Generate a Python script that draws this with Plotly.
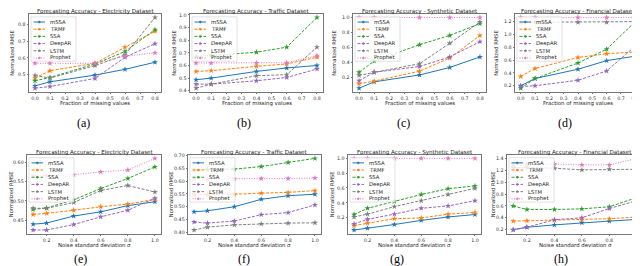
import plotly.graph_objects as go

# ---------------- data ----------------
methods = ["mSSA", "TRMF", "SSA", "DeepAR", "LSTM", "Prophet"]
x_missing = [0.0, 0.1, 0.4, 0.6, 0.8]
x_noise = [0.1, 0.2, 0.4, 0.6, 0.8, 1.0]

# (a) Electricity - missing values
elec_miss_mssa = [0.434, 0.458, 0.498, 0.532, 0.574]
elec_miss_trmf = [0.480, 0.524, 0.568, 0.664, 0.758]
elec_miss_ssa = [0.464, 0.484, 0.564, 0.638, 0.768]
elec_miss_deepar = [0.420, 0.430, 0.478, 0.604, 0.684]
elec_miss_lstm = [0.496, 0.480, 0.554, 0.618, 0.840]
elec_miss_prophet = [0.568, 0.568, 0.568, 0.610, 0.630]

# (b) Traffic - missing values
traf_miss_mssa = [0.487, 0.500, 0.553, 0.580, 0.600]
traf_miss_trmf = [0.553, 0.559, 0.593, 0.612, 0.665]
traf_miss_ssa = [0.670, 0.680, 0.705, 0.745, 0.980]
traf_miss_deepar = [0.452, 0.452, 0.479, 0.505, 0.572]
traf_miss_lstm = [0.420, 0.452, 0.519, 0.527, 0.745]
traf_miss_prophet = [0.620, 0.620, 0.620, 0.622, 0.678]

# (c) Synthetic - missing values
syn_miss_mssa = [0.055, 0.140, 0.232, 0.332, 0.473]
syn_miss_trmf = [0.114, 0.150, 0.282, 0.459, 0.760]
syn_miss_ssa = [0.268, 0.418, 0.636, 0.760, 0.918]
syn_miss_deepar = [0.155, 0.268, 0.345, 0.473, 0.677]
syn_miss_lstm = [0.227, 0.268, 0.382, 0.655, 0.940]
syn_miss_prophet = [1.000, 1.000, 1.000, 1.000, 1.000]

# (d) Financial - missing values
fin_miss_mssa = [0.200, 0.313, 0.458, 0.592, 0.662]
fin_miss_trmf = [0.345, 0.469, 0.641, 0.700, 0.727]
fin_miss_ssa = [0.162, 0.313, 0.555, 0.770, 1.200]
fin_miss_deepar = [0.189, 0.200, 0.286, 0.431, 0.818]
fin_miss_lstm = [1.190, 1.190, 1.190, 1.190, 1.200]
fin_miss_prophet = [1.265, 1.265, 1.265, 1.265, 1.265]

# (e) Electricity - noise
elec_noise_mssa = [0.440, 0.443, 0.461, 0.472, 0.488, 0.498]
elec_noise_trmf = [0.465, 0.468, 0.476, 0.485, 0.492, 0.504]
elec_noise_ssa = [0.478, 0.482, 0.503, 0.532, 0.558, 0.588]
elec_noise_deepar = [0.425, 0.425, 0.439, 0.459, 0.476, 0.507]
elec_noise_lstm = [0.481, 0.481, 0.496, 0.527, 0.540, 0.523]
elec_noise_prophet = [0.565, 0.565, 0.568, 0.575, 0.580, 0.610]

# (f) Traffic - noise
traf_noise_mssa = [0.480, 0.484, 0.500, 0.529, 0.543, 0.549]
traf_noise_trmf = [0.548, 0.548, 0.549, 0.553, 0.556, 0.563]
traf_noise_ssa = [0.645, 0.645, 0.647, 0.657, 0.673, 0.689]
traf_noise_deepar = [0.440, 0.436, 0.444, 0.469, 0.477, 0.507]
traf_noise_lstm = [0.409, 0.420, 0.429, 0.433, 0.436, 0.437]
traf_noise_prophet = [0.609, 0.609, 0.609, 0.610, 0.610, 0.612]

# (g) Synthetic - noise
syn_noise_mssa = [0.033, 0.056, 0.107, 0.163, 0.209, 0.242]
syn_noise_trmf = [0.093, 0.126, 0.186, 0.195, 0.247, 0.270]
syn_noise_ssa = [0.242, 0.326, 0.419, 0.512, 0.591, 0.628]
syn_noise_deepar = [0.116, 0.177, 0.247, 0.326, 0.358, 0.428]
syn_noise_lstm = [0.209, 0.247, 0.349, 0.428, 0.512, 0.595]
syn_noise_prophet = [1.000, 1.000, 1.000, 1.000, 1.000, 1.000]

# (h) Financial - noise
fin_noise_mssa = [0.200, 0.240, 0.280, 0.315, 0.344, 0.372]
fin_noise_trmf = [0.344, 0.350, 0.361, 0.367, 0.384, 0.413]
fin_noise_ssa = [0.597, 0.539, 0.539, 0.550, 0.585, 0.740]
fin_noise_deepar = [0.194, 0.240, 0.367, 0.400, 0.556, 0.689]
fin_noise_lstm = [1.246, 1.246, 1.234, 1.206, 1.217, 1.217]
fin_noise_prophet = [1.303, 1.303, 1.303, 1.290, 1.290, 1.400]

titles = ["Forecasting Accuracy - Electricity Dataset",
          "Forecasting Accuracy - Traffic Dataset",
          "Forecasting Accuracy - Synthetic Dataset",
          "Forecasting Accuracy - Financial Dataset"]
captions = ["(a)", "(b)", "(c)", "(d)", "(e)", "(f)", "(g)", "(h)"]
x_titles = ["Fraction of missing values", "Noise standard deviation \u03c3"]
y_title = "Normalized RMSE"
x_ticks_missing = [0.0, 0.1, 0.2, 0.3, 0.4, 0.5, 0.6, 0.7, 0.8]
x_ticks_noise = [0.2, 0.4, 0.6, 0.8, 1.0]
y_ticks = [
    [0.5, 0.6, 0.7, 0.8],
    [0.4, 0.5, 0.6, 0.7, 0.8, 0.9, 1.0],
    [0.2, 0.4, 0.6, 0.8, 1.0],
    [0.2, 0.4, 0.6, 0.8, 1.0, 1.2],
    [0.45, 0.50, 0.55, 0.60],
    [0.40, 0.45, 0.50, 0.55, 0.60, 0.65, 0.70],
    [0.2, 0.4, 0.6, 0.8, 1.0],
    [0.2, 0.4, 0.6, 0.8, 1.0, 1.2, 1.4],
]
y_fmt = [".1f", ".1f", ".1f", ".1f", ".2f", ".2f", ".1f", ".1f"]

panels = [
    (x_missing, [elec_miss_mssa, elec_miss_trmf, elec_miss_ssa, elec_miss_deepar, elec_miss_lstm, elec_miss_prophet]),
    (x_missing, [traf_miss_mssa, traf_miss_trmf, traf_miss_ssa, traf_miss_deepar, traf_miss_lstm, traf_miss_prophet]),
    (x_missing, [syn_miss_mssa, syn_miss_trmf, syn_miss_ssa, syn_miss_deepar, syn_miss_lstm, syn_miss_prophet]),
    (x_missing, [fin_miss_mssa, fin_miss_trmf, fin_miss_ssa, fin_miss_deepar, fin_miss_lstm, fin_miss_prophet]),
    (x_noise, [elec_noise_mssa, elec_noise_trmf, elec_noise_ssa, elec_noise_deepar, elec_noise_lstm, elec_noise_prophet]),
    (x_noise, [traf_noise_mssa, traf_noise_trmf, traf_noise_ssa, traf_noise_deepar, traf_noise_lstm, traf_noise_prophet]),
    (x_noise, [syn_noise_mssa, syn_noise_trmf, syn_noise_ssa, syn_noise_deepar, syn_noise_lstm, syn_noise_prophet]),
    (x_noise, [fin_noise_mssa, fin_noise_trmf, fin_noise_ssa, fin_noise_deepar, fin_noise_lstm, fin_noise_prophet]),
]

# ---------------- styles ----------------
W, H = 640, 266
colors = ["#1f77b4", "#ff7f0e", "#2ca02c", "#9467bd", "#7f7f7f", "#e377c2"]
dashes = ["solid", "3px,1.5px", "3px,1.5px", "3px,1.5px", "3px,1.5px", "1px,1.5px"]
FONT = "DejaVu Sans"

# panel boxes in pixels: left, right, top, bottom
boxes = [
    (21, 153, 4, 83), (182, 315, 4, 83), (345, 478, 4, 83), (507, 633, 4, 83),
    (19, 153, 147, 227), (180, 313, 147, 227), (340, 473, 147, 227), (499, 635, 147, 227),
]
ytitle_x = [4, 166, 326, 488, 3, 163, 324, 485]
caption_pos = [(75, 115), (236, 115), (395, 115), (557, 115),
               (72, 253), (236, 253), (389, 253), (553, 253)]


def fx(x):
    return x / W


def fy(y):
    return 1 - y / H


fig = go.Figure()
shapes = []
annotations = []
layout_axes = {}

for i, (xs, series) in enumerate(panels):
    n = i + 1
    xa = "x" if n == 1 else f"x{n}"
    ya = "y" if n == 1 else f"y{n}"
    for k, ys in enumerate(series):
        fig.add_trace(go.Scatter(
            x=xs, y=ys, xaxis=xa, yaxis=ya, mode="lines+markers",
            name=methods[k], showlegend=False,
            line=dict(color=colors[k], width=1, dash=dashes[k]),
            marker=dict(symbol="star", size=4.5, color=colors[k], line=dict(width=0)),
            hoverinfo="skip",
        ))
    L, R, T, B = boxes[i]
    allv = [v for s in series for v in s]
    lo, hi = min(allv), max(allv)
    pad = 0.05 * (hi - lo)
    xlo, xhi = min(xs), max(xs)
    xpad = 0.05 * (xhi - xlo)
    row = 0 if i < 4 else 1
    axis_common = dict(showline=True, mirror=True, linecolor="#777", linewidth=0.7,
                       showgrid=False, zeroline=False, ticks="outside", ticklen=1.5,
                       tickwidth=0.6, tickcolor="#777",
                       tickfont=dict(family=FONT, size=4.8, color="#333"))
    layout_axes["xaxis" if n == 1 else f"xaxis{n}"] = dict(
        domain=[fx(L), fx(R)], anchor=ya, range=[xlo - xpad, xhi + xpad],
        tickvals=x_ticks_missing if row == 0 else x_ticks_noise, tickformat=".1f",
        **axis_common)
    layout_axes["yaxis" if n == 1 else f"yaxis{n}"] = dict(
        domain=[fy(B), fy(T)], anchor=xa, range=[lo - pad, hi + pad],
        tickvals=y_ticks[i], tickformat=y_fmt[i], **axis_common)

    cx = (L + R) / 2
    # panel title
    annotations.append(dict(text=titles[i % 4], x=fx(cx), y=fy(T - 2.5), xref="paper", yref="paper",
                            showarrow=False, xanchor="center", yanchor="middle",
                            font=dict(family=FONT, size=5.6, color="#222")))
    # x title
    annotations.append(dict(text=x_titles[row], x=fx(cx), y=fy(B + 11.5), xref="paper", yref="paper",
                            showarrow=False, xanchor="center", yanchor="middle",
                            font=dict(family=FONT, size=5.4, color="#222")))
    # y title
    annotations.append(dict(text=y_title, x=fx(ytitle_x[i]), y=fy((T + B) / 2), xref="paper", yref="paper",
                            showarrow=False, xanchor="center", yanchor="middle", textangle=-90,
                            font=dict(family=FONT, size=5.2, color="#222")))
    # caption
    cxp, cyp = caption_pos[i]
    annotations.append(dict(text=captions[i], x=fx(cxp), y=fy(cyp), xref="paper", yref="paper",
                            showarrow=False, xanchor="center", yanchor="middle",
                            font=dict(family="Liberation Serif", size=12, color="#000")))
    # legend (drawn manually, matplotlib style)
    bl, bt = L + 2, T + 3
    br, bb = L + 47, T + 48
    shapes.append(dict(type="rect", xref="paper", yref="paper", layer="above",
                       x0=fx(bl), x1=fx(br), y0=fy(bb), y1=fy(bt),
                       line=dict(color="#cccccc", width=0.6), fillcolor="rgba(255,255,255,0.8)"))
    for k in range(6):
        ey = bt + 5.2 + 7.3 * k
        shapes.append(dict(type="line", xref="paper", yref="paper", layer="above",
                           x0=fx(bl + 2.5), x1=fx(bl + 14), y0=fy(ey), y1=fy(ey),
                           line=dict(color=colors[k], width=1, dash=dashes[k])))
        shapes.append(dict(type="circle", xref="paper", yref="paper", layer="above",
                           x0=fx(bl + 7.3), x1=fx(bl + 9.3), y0=fy(ey + 1), y1=fy(ey - 1),
                           line=dict(color=colors[k], width=0.5), fillcolor=colors[k]))
        annotations.append(dict(text=methods[k], x=fx(bl + 17), y=fy(ey), xref="paper", yref="paper",
                                showarrow=False, xanchor="left", yanchor="middle",
                                font=dict(family=FONT, size=5.3, color="#222")))

fig.update_layout(
    width=W, height=H, margin=dict(l=0, r=0, t=0, b=0),
    paper_bgcolor="white", plot_bgcolor="white",
    showlegend=False, shapes=shapes, annotations=annotations,
    **layout_axes,
)

fig.write_html("out.html")
